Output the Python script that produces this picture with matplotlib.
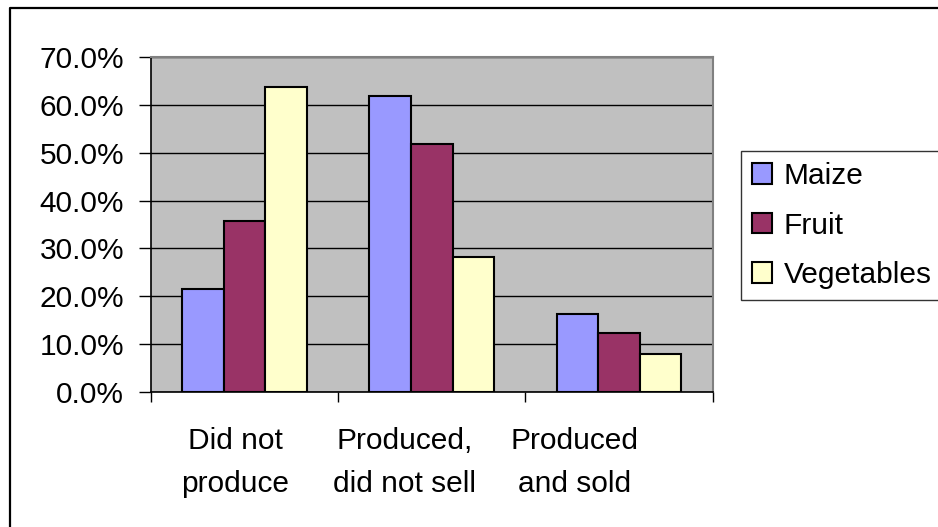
import matplotlib
matplotlib.use("Agg")
import matplotlib.pyplot as plt
import numpy as np
from matplotlib.patches import Patch
from matplotlib.lines import Line2D
from matplotlib.ticker import FuncFormatter, MultipleLocator
import matplotlib.transforms as mtransforms

plt.rcParams['font.family'] = ['Liberation Sans', 'DejaVu Sans']

# Share of households by production status
categories = ["Did not\nproduce", "Produced,\ndid not sell", "Produced\nand sold"]
series = ["Maize", "Fruit", "Vegetables"]
maize = [21.6, 62.0, 16.3]
fruit = [35.7, 51.8, 12.3]
vegetables = [63.7, 28.3, 7.9]
colors = ["#9999FF", "#993366", "#FFFFCC"]

fs = 21.5
fig = plt.figure(figsize=(9.38, 5.27), dpi=100)
ax = fig.add_axes([150.7 / 938, 1 - 391.7 / 527, (712.7 - 150.7) / 938, (391.7 - 57.3) / 527])
ax.set_facecolor("#C0C0C0")

x = np.arange(len(categories))
w = 2 / 9
for i, (vals, col) in enumerate(zip([maize, fruit, vegetables], colors)):
    ax.bar(x + (i - 1) * w, vals, width=w, color=col, edgecolor="black",
           linewidth=1.5, zorder=3)

ax.set_xlim(-0.5, 2.5)
ax.set_ylim(0, 70)
ax.yaxis.set_major_locator(MultipleLocator(10))
ax.yaxis.set_major_formatter(FuncFormatter(lambda v, p: f"{v:.1f}%"))
ax.grid(axis="y", color="black", linewidth=1.0, zorder=1)
ax.set_axisbelow(True)
ax.tick_params(axis="y", direction="out", length=8.6, width=1, pad=10.5,
               labelsize=fs, colors="black")

# category ticks sit on group boundaries, labels drawn separately
ax.set_xticks([-0.5, 0.5, 1.5, 2.5])
ax.set_xticklabels([])
ax.tick_params(axis="x", direction="out", length=7.5, width=1)
label_shift = [-0.05, -0.145, -0.24]
trans = mtransforms.blended_transform_factory(ax.transData, ax.transAxes)
for xi, lab, s in zip(x, categories, label_shift):
    ax.text(xi + s, -0.105, lab, transform=trans, ha="center", va="top",
            fontsize=fs, linespacing=1.7, multialignment="center")

for side in ["left", "bottom"]:
    ax.spines[side].set_color("black")
    ax.spines[side].set_linewidth(1.2)
for side in ["top", "right"]:
    ax.spines[side].set_color("#808080")
    ax.spines[side].set_linewidth(1.5)

handles = [Patch(facecolor=c, edgecolor="black", linewidth=1.5) for c in colors]
leg = fig.legend(handles, series, loc="upper left",
                 bbox_to_anchor=(740.7 / 938, 1 - 150.7 / 527),
                 fontsize=fs, frameon=True, fancybox=False,
                 handlelength=0.68, handleheight=0.68, handletextpad=0.38,
                 labelspacing=0.72, borderpad=0.38, borderaxespad=0)
leg.get_frame().set_edgecolor("black")
leg.get_frame().set_linewidth(1.0)

# chart area border
fig.add_artist(Line2D([10 / 938, 10 / 938, 1.0], [0.0, 1 - 8 / 527, 1 - 8 / 527],
                      transform=fig.transFigure, color="black", linewidth=1.6))

fig.savefig("out.png", dpi=100)
